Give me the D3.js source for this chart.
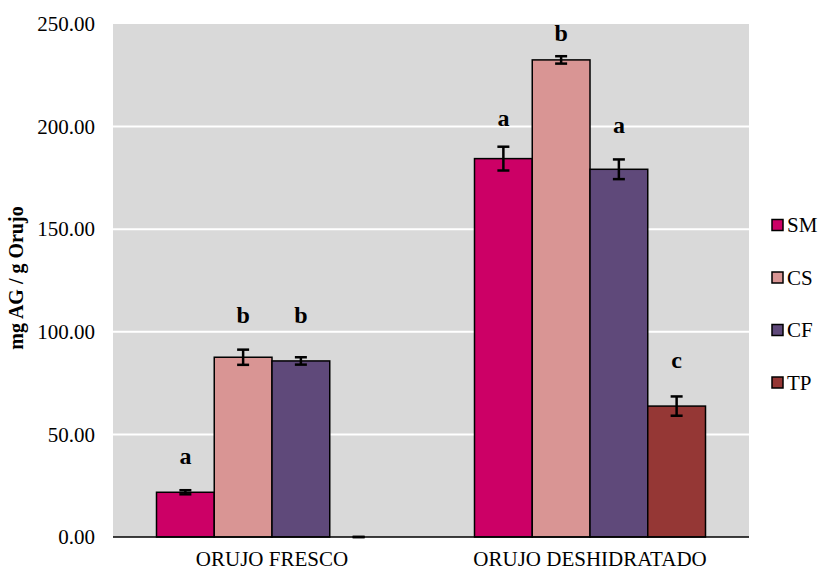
<!DOCTYPE html>
<html><head><meta charset="utf-8">
<script src="https://cdn.jsdelivr.net/npm/d3@7"></script>
<style>body{margin:0;background:#fff}svg{display:block}</style>
</head><body>
<script>
const categories = ["ORUJO FRESCO", "ORUJO DESHIDRATADO"];
const series = ["SM", "CS", "CF", "TP"];
const colors = ["#CC0066", "#D99594", "#5F497A", "#953735"];
const valuesSM = [21.8, 184.4];
const valuesCS = [87.6, 232.5];
const valuesCF = [85.8, 179.2];
const valuesTP = [0, 63.8];
const errSM = [1.0, 5.8];
const errCS = [3.7, 1.8];
const errCF = [1.8, 4.8];
const errTP = [0, 4.7];
const lettersSM = ["a", "a"];
const lettersCS = ["b", "b"];
const lettersCF = ["b", "a"];
const lettersTP = ["", "c"];
const letterPosSM = [35.6, 200.3];
const letterPosCS = [104.3, 241.5];
const letterPosCF = [104.3, 196.9];
const letterPosTP = [0, 82.4];
const yTicks = [0, 50, 100, 150, 200, 250];
const yTitle = "mg AG / g Orujo";

const vals = [valuesSM, valuesCS, valuesCF, valuesTP];
const errs = [errSM, errCS, errCF, errTP];
const lets = [lettersSM, lettersCS, lettersCF, lettersTP];
const lpos = [letterPosSM, letterPosCS, letterPosCF, letterPosTP];

const W = 820, H = 571;
const pL = 113, pR = 749, pT = 24, pB = 537;
const font = "'Liberation Serif','Times New Roman',serif";

const svg = d3.select("body").append("svg").attr("width", W).attr("height", H);

const x0 = d3.scaleBand().domain(categories).range([pL, pR]);
const x1 = d3.scaleBand().domain(series).range([43.5, 274.5]);
const y = d3.scaleLinear().domain([0, 250]).range([pB, pT]);

svg.append("rect").attr("x", pL).attr("y", pT).attr("width", pR - pL).attr("height", pB - pT).attr("fill", "#D9D9D9");

svg.append("g").selectAll("line").data(yTicks.filter(t => t > 0 && t < 250)).join("line")
  .attr("x1", pL).attr("x2", pR).attr("y1", d => y(d)).attr("y2", d => y(d))
  .attr("stroke", "#fff").attr("stroke-width", 2);

const yAxis = d3.axisLeft(y).tickValues(yTicks).tickFormat(d3.format(".2f")).tickSize(0).tickPadding(18);
const ya = svg.append("g").attr("transform", `translate(${pL},0)`).call(yAxis);
ya.select(".domain").remove();
ya.selectAll("text").attr("font-family", font).attr("font-size", 21).attr("fill", "#000");

const data = [];
series.forEach((s, si) => categories.forEach((c, ci) => data.push({
  s, c, si, v: vals[si][ci], e: errs[si][ci], l: lets[si][ci], lp: lpos[si][ci]
})));

const g = svg.append("g");
g.selectAll("rect").data(data.filter(d => d.v > 0)).join("rect")
  .attr("x", d => x0(d.c) + x1(d.s)).attr("width", x1.bandwidth())
  .attr("y", d => y(d.v)).attr("height", d => y(0) - y(d.v))
  .attr("fill", d => colors[d.si]).attr("stroke", "#000").attr("stroke-width", 1.5);

svg.append("line").attr("x1", pL).attr("x2", pR).attr("y1", pB).attr("y2", pB).attr("stroke", "#000").attr("stroke-width", 1.5);

const eb = svg.append("g").attr("stroke", "#000").attr("stroke-width", 2.5);
data.forEach(d => {
  const cx = x0(d.c) + x1(d.s) + x1.bandwidth() / 2;
  const y1 = y(d.v + d.e), y2 = y(d.v - d.e);
  if (d.e > 0) eb.append("line").attr("x1", cx).attr("x2", cx).attr("y1", y1).attr("y2", y2);
  eb.append("line").attr("x1", cx - 6).attr("x2", cx + 6).attr("y1", y1).attr("y2", y1);
  eb.append("line").attr("x1", cx - 6).attr("x2", cx + 6).attr("y1", y2).attr("y2", y2);
});

svg.append("g").selectAll("text").data(data.filter(d => d.l)).join("text")
  .attr("x", d => x0(d.c) + x1(d.s) + x1.bandwidth() / 2).attr("y", d => y(d.lp))
  .attr("text-anchor", "middle").attr("font-family", font).attr("font-weight", "bold").attr("font-size", 24)
  .text(d => d.l);

const xAxis = d3.axisBottom(x0).tickSize(0).tickPadding(14);
const xa = svg.append("g").attr("transform", `translate(0,${pB})`).call(xAxis);
xa.select(".domain").remove();
xa.selectAll("text").attr("font-family", font).attr("font-size", 21).attr("fill", "#000");

svg.append("text").attr("transform", `translate(23,278) rotate(-90)`)
  .attr("text-anchor", "middle").attr("font-family", font).attr("font-weight", "bold").attr("font-size", 20)
  .text(yTitle);

const lg = svg.append("g");
series.forEach((s, i) => {
  const cy = 225 + i * 52.5;
  lg.append("rect").attr("x", 772).attr("y", cy - 5.5).attr("width", 11).attr("height", 11)
    .attr("fill", colors[i]).attr("stroke", "#000").attr("stroke-width", 1.5);
  lg.append("text").attr("x", 787).attr("y", cy).attr("dy", "0.35em").attr("font-family", font).attr("font-size", 21).text(s);
});
</script>
</body></html>
